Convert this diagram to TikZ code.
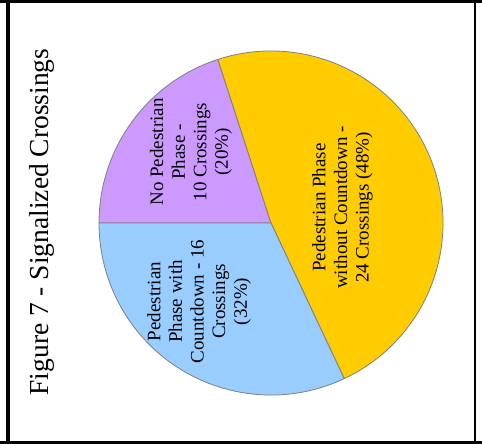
\documentclass[tikz,border=0pt]{standalone}
\usepackage{fontspec}
\setmainfont{Liberation Serif}
\definecolor{slicepurple}{HTML}{CC99FF}
\definecolor{sliceyellow}{HTML}{FFCC00}
\definecolor{sliceblue}{HTML}{99CCFF}
\definecolor{sliceedge}{HTML}{808080}
\begin{document}
\begin{tikzpicture}[x=1pt,y=-1pt,
  slice/.style={draw=sliceedge, line width=0.8pt, line join=round},
  lab/.style={rotate=90, align=center, font=\fontsize{19}{21.6}\selectfont, text=black, inner sep=0pt},
  frameline/.style={fill=black}]
\useasboundingbox (0,0) rectangle (482,444);
\fill[white] (0,0) rectangle (482,444);
\coordinate (c) at (271,223);
\def\R{172}
\filldraw[slice, fill=slicepurple] (c) -- ++(-180:\R) arc (-180:-108:\R) -- cycle;
\filldraw[slice, fill=sliceyellow] (c) -- ++(-108:\R) arc (-108:64.8:\R) -- cycle;
\filldraw[slice, fill=sliceblue] (c) -- ++(64.8:\R) arc (64.8:180:\R) -- cycle;
% frame
\fill[frameline] (0,0) rectangle (482,3);
\fill[frameline] (0,441) rectangle (482,444);
\fill[frameline] (5.5,0) rectangle (9.5,444);
\fill[frameline] (473.5,0) rectangle (476,444);
% title
\node[rotate=90, anchor=base, inner sep=0pt, font=\fontsize{27.5}{32}\selectfont] (title) at (48,222) {Figure 7 - Signalized Crossings};
% labels
\node[lab] (nope) at (191,152) {No Pedestrian\\Phase -\\10 Crossings\\(20\%)};
\node[lab] (nocd) at (342.5,207.5) {Pedestrian Phase\\without Countdown -\\24 Crossings (48\%)};
\node[lab] (withcd) at (199,301.5) {Pedestrian\\Phase with\\Countdown - 16\\Crossings\\(32\%)};
\end{tikzpicture}
\end{document}
